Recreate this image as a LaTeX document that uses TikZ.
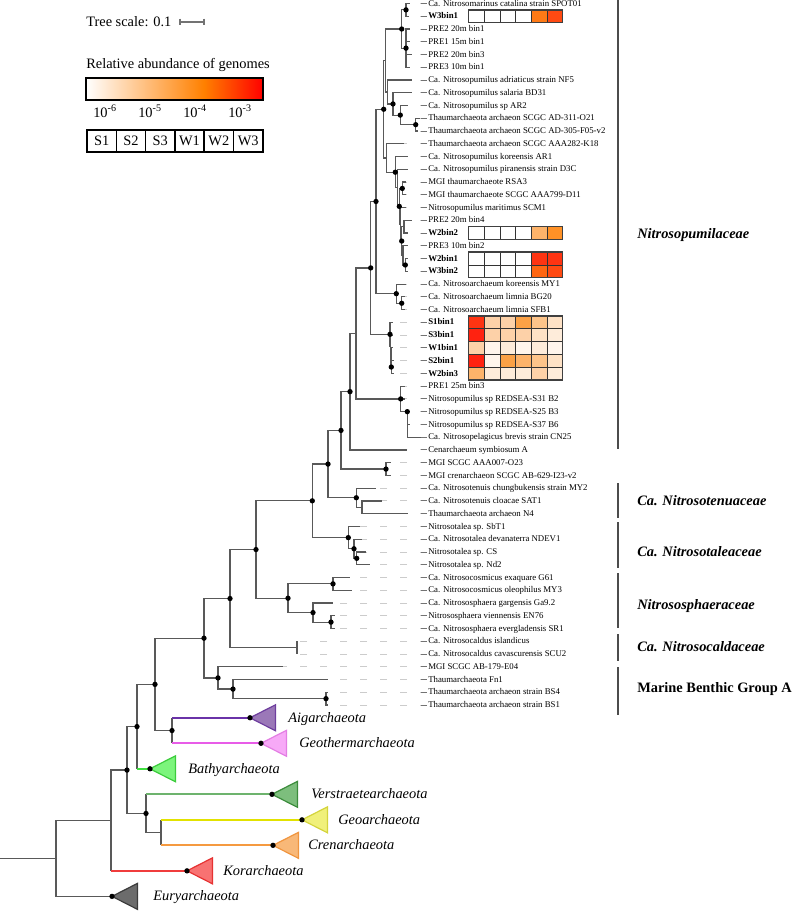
\documentclass[tikz,border=0pt]{standalone}
\usepackage{fontspec}
\setmainfont{Liberation Serif}
\usetikzlibrary{calc}

% heat map scale
\definecolor{hw}{HTML}{FFFFFF}
\definecolor{h0}{HTML}{FFF5EC}
\definecolor{h1}{HTML}{FEECDA}
\definecolor{h2}{HTML}{FEE2C6}
\definecolor{h3}{HTML}{FDD1A8}
\definecolor{h4}{HTML}{FDC48A}
\definecolor{h5}{HTML}{FDB36A}
\definecolor{h6}{HTML}{FBA146}
\definecolor{h7}{HTML}{FF9126}
\definecolor{h8}{HTML}{FF7A16}
\definecolor{h9}{HTML}{FF6612}
\definecolor{h10}{HTML}{FF4A12}
\definecolor{h11}{HTML}{FF3412}
\definecolor{h12}{HTML}{FF2210}
\definecolor{barmid}{HTML}{FF8000}
% clade colours
\definecolor{aigLine}{HTML}{6A32A8}\definecolor{aigFill}{HTML}{9B78B8}\definecolor{aigEdge}{HTML}{6E3E9E}
\definecolor{gthLine}{HTML}{E85CE8}\definecolor{gthFill}{HTML}{F7A9F7}\definecolor{gthEdge}{HTML}{E37EE3}
\definecolor{batLine}{HTML}{40E040}\definecolor{batFill}{HTML}{7CF57C}\definecolor{batEdge}{HTML}{3CCC3C}
\definecolor{verLine}{HTML}{6DB36D}\definecolor{verFill}{HTML}{7DBE7D}\definecolor{verEdge}{HTML}{3C8C3C}
\definecolor{geoLine}{HTML}{E2E200}\definecolor{geoFill}{HTML}{F0F07A}\definecolor{geoEdge}{HTML}{D4D43C}
\definecolor{creLine}{HTML}{F59A40}\definecolor{creFill}{HTML}{F8B878}\definecolor{creEdge}{HTML}{F0953F}
\definecolor{korLine}{HTML}{F03C3C}\definecolor{korFill}{HTML}{F87272}\definecolor{korEdge}{HTML}{E63232}
\definecolor{eurFill}{HTML}{6C6C6C}\definecolor{eurEdge}{HTML}{3C3C3C}

% leaf row -> pixel y
\pgfmathdeclarefunction{leafy}{1}{\pgfmathparse{3.5+(#1-1)*12.755}}
\newcommand{\leaffont}{\fontsize{6.6}{7}\selectfont}
\newcommand{\famfont}{\fontsize{10.8}{12}\selectfont}

\tikzset{
  treeedge/.style={black!65, line width=0.9pt},
  cladeedge/.style={line width=1.3pt},
  aligndash/.style={gray!40, line width=0.7pt, dash pattern=on 4.9pt off 10.1pt},
  leader/.style={black!55, line width=0.7pt},
  leaflabel/.style={anchor=base west, inner sep=0pt, font=\leaffont, yshift=-1.95pt},
  boot/.style={fill=black},
  heatcell/.style={draw=black!80, line width=0.5pt},
  cellframe/.style={draw=black!75, line width=1.1pt},
  clade/.style={line width=0.9pt, line join=miter},
  cladelabel/.style={anchor=base west, inner sep=0pt, font=\famfont\itshape, yshift=-3.4pt},
  famline/.style={black!70, line width=0.8pt},
  famlabel/.style={anchor=base west, inner sep=0pt, font=\famfont\bfseries\itshape, yshift=-3.5pt},
  legendtext/.style={anchor=base west, inner sep=0pt, font=\famfont},
  samplebox/.style={draw, line width=1.1pt, minimum width=22pt, minimum height=16.5pt, inner sep=0pt, font=\famfont},
  scalebar/.style={black!55, line width=0.8pt},
}

\begin{document}
\begin{tikzpicture}[x=0.75pt, y=-0.75pt]
    \useasboundingbox (0,0) rectangle (792,911);

    % 1. Leaves: tip, alignment dashes and labels
    \foreach \i/\tx/\lab in {
        1/410/Ca. Nitrosomarinus catalina strain SPOT01,
        2/409/\textbf{W3bin1},
        3/410/PRE2 20m bin1,
        4/410/PRE1 15m bin1,
        5/412/PRE2 20m bin3,
        6/410/PRE3 10m bin1,
        7/412/Ca. Nitrosopumilus adriaticus strain NF5,
        8/412/Ca. Nitrosopumilus salaria BD31,
        9/408/Ca. Nitrosopumilus sp AR2,
        10/420/Thaumarchaeota archaeon SCGC AD-311-O21,
        11/418/Thaumarchaeota archaeon SCGC AD-305-F05-v2,
        12/404/Thaumarchaeota archaeon SCGC AAA282-K18,
        13/408/Ca. Nitrosopumilus koreensis AR1,
        14/408/Ca. Nitrosopumilus piranensis strain D3C,
        15/406/MGI thaumarchaeote RSA3,
        16/406/MGI thaumarchaeote SCGC AAA799-D11,
        17/406/Nitrosopumilus maritimus SCM1,
        18/412/PRE2 20m bin4,
        19/408/\textbf{W2bin2},
        20/408/PRE3 10m bin2,
        21/408/\textbf{W2bin1},
        22/408/\textbf{W3bin2},
        23/406/Ca. Nitrosoarchaeum koreensis MY1,
        24/405/Ca. Nitrosoarchaeum limnia BG20,
        25/405/Ca. Nitrosoarchaeum limnia SFB1,
        26/393/\textbf{S1bin1},
        27/393/\textbf{S3bin1},
        28/393/\textbf{W1bin1},
        29/394/\textbf{S2bin1},
        30/394/\textbf{W2bin3},
        31/405/PRE1 25m bin3,
        32/405/Nitrosopumilus sp REDSEA-S31 B2,
        33/410/Nitrosopumilus sp REDSEA-S25 B3,
        34/410/Nitrosopumilus sp REDSEA-S37 B6,
        35/421/Ca. Nitrosopelagicus brevis strain CN25,
        36/407/Cenarchaeum symbiosum A,
        37/391/MGI SCGC AAA007-O23,
        38/391/MGI crenarchaeon SCGC AB-629-I23-v2,
        39/376/Ca. Nitrosotenuis chungbukensis strain MY2,
        40/382/Ca. Nitrosotenuis cloacae SAT1,
        41/408/Thaumarchaeota archaeon N4,
        42/360/Nitrosotalea sp. SbT1,
        43/362/Ca. Nitrosotalea devanaterra NDEV1,
        44/366/Nitrosotalea sp. CS,
        45/370/Nitrosotalea sp. Nd2,
        46/350/Ca. Nitrosocosmicus exaquare G61,
        47/352/Ca. Nitrosocosmicus oleophilus MY3,
        48/333/Ca. Nitrososphaera gargensis Ga9.2,
        49/335/Nitrososphaera viennensis EN76,
        50/335/Ca. Nitrososphaera evergladensis SR1,
        51/297/Ca. Nitrosocaldus islandicus,
        52/297/Ca. Nitrosocaldus cavascurensis SCU2,
        53/283/MGI SCGC AB-179-E04,
        54/328/Thaumarchaeota Fn1,
        55/328/Thaumarchaeota archaeon strain BS4,
        56/328/Thaumarchaeota archaeon strain BS1} {
        \coordinate (l\i) at (\tx,{leafy(\i)});
        \draw[aligndash] (427,{leafy(\i)}) -- (l\i);
        \draw[leader] (421,{leafy(\i)}) -- ++(6,0);
        \node[leaflabel] (t\i) at (428,{leafy(\i)}) {\lab};
    }

    % 2. Internal nodes (x in px, y as leaf row)
    \coordinate (n1) at (406,{leafy(1.5)});
    \coordinate (n3) at (406,{leafy(4.5)});
    \coordinate (n2) at (401.7,{leafy(3)});
    \coordinate (n7) at (415.7,{leafy(10.5)});
    \coordinate (n6) at (400.3,{leafy(9.75)});
    \coordinate (n5) at (393,{leafy(8.875)});
    \coordinate (nC) at (387.5,{leafy(7.9375)});
    \coordinate (nA) at (385.5,{leafy(5.469)});
    \coordinate (n10) at (402.3,{leafy(15.5)});
    \coordinate (n13) at (405.3,{leafy(21.5)});
    \coordinate (nE) at (403,{leafy(20.75)});
    \coordinate (nD) at (404,{leafy(18.5)});
    \coordinate (n12) at (401.7,{leafy(19.625)});
    \coordinate (nF) at (400.8,{leafy(18.3125)});
    \coordinate (n11) at (399.3,{leafy(16.906)});
    \coordinate (nX) at (397.5,{leafy(15.453)});
    \coordinate (n9) at (395.3,{leafy(14.227)});
    \coordinate (nB) at (386.5,{leafy(13.113)});
    \coordinate (n4) at (383.7,{leafy(9.291)});
    \coordinate (n16) at (401.7,{leafy(24.5)});
    \coordinate (n15) at (396.3,{leafy(23.75)});
    \coordinate (n8) at (376,{leafy(16.52)});
    \coordinate (n18) at (391.3,{leafy(29.5)});
    \coordinate (nV) at (391,{leafy(28.75)});
    \coordinate (nW) at (390.5,{leafy(27.875)});
    \coordinate (n17) at (390,{leafy(26.9375)});
    \coordinate (n14) at (370.7,{leafy(21.73)});
    \coordinate (n21) at (407.3,{leafy(33)});
    \coordinate (n20) at (400.7,{leafy(32)});
    \coordinate (nK) at (356,{leafy(26.865)});
    \coordinate (n19) at (350,{leafy(31.43)});
    \coordinate (n23) at (386,{leafy(37.5)});
    \coordinate (n22) at (341,{leafy(34.47)});
    \coordinate (nTe) at (362,{leafy(40.5)});
    \coordinate (n25) at (356.3,{leafy(39.75)});
    \coordinate (n24) at (328,{leafy(37.11)});
    \coordinate (nT3) at (356.7,{leafy(44.5)});
    \coordinate (nT2) at (354,{leafy(43.75)});
    \coordinate (nT1) at (348.3,{leafy(42.875)});
    \coordinate (n26) at (312.3,{leafy(39.99)});
    \coordinate (nCos) at (333,{leafy(46.5)});
    \coordinate (nSph2) at (331,{leafy(49.5)});
    \coordinate (nSph1) at (313,{leafy(48.75)});
    \coordinate (nSph) at (288,{leafy(47.625)});
    \coordinate (nS) at (256,{leafy(43.81)});
    \coordinate (nCal) at (297,{leafy(51.5)});
    \coordinate (nR) at (230,{leafy(47.65)});
    \coordinate (nBS) at (326,{leafy(55.5)});
    \coordinate (nFn) at (233,{leafy(54.75)});
    \coordinate (nMB) at (218,{leafy(53.875)});
    \coordinate (nQ) at (204,{leafy(50.76)});
    \coordinate (nAG) at (172,{leafy(58)});
    \coordinate (nP) at (155,{leafy(54.38)});
    \coordinate (nBa) at (137,{leafy(57.69)});
    \coordinate (nGC) at (161,{leafy(66)});
    \coordinate (nVGC) at (146,{leafy(64.5)});
    \coordinate (nTACK) at (127,{leafy(61.1)});
    \coordinate (nK2) at (111,{leafy(65.05)});
    \coordinate (nRoot) at (56,{leafy(68.02)});
    \coordinate (r0) at (0,{leafy(68.02)});

    % collapsed clades (apex)
    \coordinate (cAig) at (250,{leafy(57)});
    \coordinate (cGth) at (261,{leafy(59)});
    \coordinate (cBat) at (150,{leafy(61)});
    \coordinate (cVer) at (272,{leafy(63)});
    \coordinate (cGeo) at (302,{leafy(65)});
    \coordinate (cCre) at (273,{leafy(67)});
    \coordinate (cKor) at (187,{leafy(69)});
    \coordinate (cEur) at (112,{leafy(71)});

    % 3. Branches
    \foreach \p/\c in {n1/l1, n1/l2, n3/l3, n3/l4, n3/l5, n3/l6, n2/n1, n2/n3,
        nA/n2, nA/nC, nC/l7, nC/n5, n5/l8, n5/n6, n6/l9, n6/n7, n7/l10, n7/l11,
        n4/nA, n4/nB, nB/l12, nB/n9, n9/l13, n9/nX, nX/l14, nX/n11, n11/n10,
        n11/nF, n10/l15, n10/l16, nF/l17, nF/n12, n12/nD, n12/nE, nD/l18,
        nD/l19, nE/l20, nE/n13, n13/l21, n13/l22, n8/n4, n8/n15, n15/l23,
        n15/n16, n16/l24, n16/l25, n14/n8, n14/n17, n17/l26, n17/nW, nW/l27,
        nW/nV, nV/l28, nV/n18, n18/l29, n18/l30, nK/n14, nK/n20, n20/l31,
        n20/l32, n20/n21, n21/l33, n21/l34, n21/l35, n19/nK, n19/l36, n22/n19,
        n22/n23, n23/l37, n23/l38, n24/n22, n24/n25, n25/l39, n25/nTe, nTe/l40,
        nTe/l41, n26/n24, n26/nT1, nT1/l42, nT1/nT2, nT2/l43, nT2/nT3, nT3/l44,
        nT3/l45, nS/n26, nS/nSph, nSph/nCos, nSph/nSph1, nCos/l46, nCos/l47,
        nSph1/l48, nSph1/nSph2, nSph2/l49, nSph2/l50, nR/nS, nR/nCal, nCal/l51,
        nCal/l52, nQ/nR, nQ/nMB, nMB/l53, nMB/nFn, nFn/l54, nFn/nBS, nBS/l55,
        nBS/l56, nP/nQ, nP/nAG, nBa/nP, nTACK/nBa, nTACK/nVGC, nVGC/nGC,
        nK2/nTACK, nRoot/nK2, nRoot/cEur}
        \draw[treeedge] (\p) |- (\c);
    \draw[treeedge] (r0) -- (nRoot);

    % coloured branches to collapsed clades
    \draw[treeedge] (nAG |- cAig) -- (nAG |- cGth);
    \draw[cladeedge, aigLine] (nAG |- cAig) -- (cAig);
    \draw[cladeedge, gthLine] (nAG |- cGth) -- (cGth);
    \draw[treeedge] (nBa) -- (nBa |- cBat);
    \draw[cladeedge, batLine] (nBa |- cBat) -- (cBat);
    \draw[treeedge] (nVGC) -- (nVGC |- cVer);
    \draw[cladeedge, verLine] (nVGC |- cVer) -- (cVer);
    \draw[treeedge] (nGC |- cGeo) -- (nGC |- cCre);
    \draw[cladeedge, geoLine] (nGC |- cGeo) -- (cGeo);
    \draw[cladeedge, creLine] (nGC |- cCre) -- (cCre);
    \draw[treeedge] (nK2) -- (nK2 |- cKor);
    \draw[cladeedge, korLine] (nK2 |- cKor) -- (cKor);

    % triangles
    \foreach \c/\f/\e in {cAig/aigFill/aigEdge, cGth/gthFill/gthEdge, cBat/batFill/batEdge,
        cVer/verFill/verEdge, cGeo/geoFill/geoEdge, cCre/creFill/creEdge,
        cKor/korFill/korEdge, cEur/eurFill/eurEdge}
        \filldraw[clade, fill=\f, draw=\e] (\c) -- ++(25.5,-13) -- ++(0,26) -- cycle;

    % 4. Supported nodes
    \foreach \n in {n1, n2, n3, n4, n5, n6, n7, n8, n9, n10, n11, n12, n13, n14, n15,
        n16, n17, n18, n19, n20, n21, n22, n23, n24, n25, n26, nT1, nT2, nT3, nCos,
        nSph, nSph1, nSph2, nS, nR, nQ, nMB, nFn, nBS, nP, nAG, nBa, nTACK, nVGC,
        cAig, cGth, cBat, cVer, cGeo, cCre, cKor, cEur}
        \fill[boot] (\n) circle (2pt);

    % 5. Heat map (S1 S2 S3 W1 W2 W3)
    \foreach \r/\ca/\cb/\cc/\cd/\ce/\cf in {
        2/hw/hw/hw/hw/h8/h10, 19/hw/hw/hw/hw/h5/h7, 21/hw/hw/hw/hw/h11/h11,
        22/hw/hw/hw/hw/h9/h10, 26/h11/h3/h3/h6/h4/h2, 27/h12/h3/h3/h3/h2/h1,
        28/h3/h0/h1/h0/h1/h0, 29/h12/h0/h6/h5/h4/h2, 30/h5/h1/h1/h1/h3/h1} {
        \foreach \c [count=\j] in {\ca,\cb,\cc,\cd,\ce,\cf}
            \draw[heatcell, fill=\c] ({468.5+(\j-1)*15.7},{leafy(\r-0.5)}) rectangle ++(15.7,12.755);
    }
    \foreach \a/\b in {1.5/2.5, 18.5/19.5, 20.5/22.5, 25.5/30.5}
        \draw[cellframe] (468.5,{leafy(\a)}) rectangle (562.7,{leafy(\b)});

    % 6. Clade labels
    \node[cladelabel] (lbAig) at (288,{leafy(57)}) {Aigarchaeota};
    \node[cladelabel] (lbGth) at (299,{leafy(59)}) {Geothermarchaeota};
    \node[cladelabel] (lbBat) at (188,{leafy(61)}) {Bathyarchaeota};
    \node[cladelabel] (lbVer) at (311,{leafy(63)}) {Verstraetearchaeota};
    \node[cladelabel] (lbGeo) at (338,{leafy(65)}) {Geoarchaeota};
    \node[cladelabel] (lbCre) at (308,{leafy(67)}) {Crenarchaeota};
    \node[cladelabel] (lbKor) at (223,{leafy(69)}) {Korarchaeota};
    \node[cladelabel] (lbEur) at (153,{leafy(71)}) {Euryarchaeota};

    % 7. Families
    \draw[famline] (618,0) -- (618,449);
    \node[famlabel] (fNpu) at (637,234) {Nitrosopumilaceae};
    \draw[famline] (618,483) -- (618,518);
    \node[famlabel] (fNte) at (637,501) {Ca. Nitrosotenuaceae};
    \draw[famline] (618,522) -- (618,568);
    \node[famlabel] (fNta) at (637,552) {Ca. Nitrosotaleaceae};
    \draw[famline] (618,573) -- (618,628);
    \node[famlabel] (fNsp) at (637,605) {Nitrososphaeraceae};
    \draw[famline] (618,634) -- (618,661);
    \node[famlabel] (fNca) at (637,647) {Ca. Nitrosocaldaceae};
    \draw[famline] (618,667) -- (618,715);
    \node[famlabel, font=\famfont\bfseries] (fMbg) at (637,688) {Marine Benthic Group A};

    % 8. Legend
    \node[legendtext] (tscale) at (86,26) {Tree scale: 0.1};
    \coordinate (sb0) at (180,22);
    \coordinate (sb1) at (204,22);
    \draw[scalebar] (sb0) -- (sb1);
    \draw[scalebar] ([yshift=2.6pt]sb0) -- ([yshift=-2.6pt]sb0);
    \draw[scalebar] ([yshift=2.6pt]sb1) -- ([yshift=-2.6pt]sb1);

    \node[legendtext] (abtitle) at (86,68) {Relative abundance of genomes};
    \shade[left color=white, right color=barmid] (86,78) rectangle (204,100);
    \shade[left color=barmid, right color=red] (204,78) rectangle (263,100);
    \draw[line width=1.1pt] (86,78) rectangle (263,100);
    \foreach \e [count=\k] in {6,5,4,3}
        \node[legendtext, anchor=base] (ex\e) at ({60+45*\k},117) {10\textsuperscript{-\e}};

    \foreach \s [count=\j] in {S1,S2,S3,W1,W2,W3}
        \node[samplebox] (sm\j) at ({87+29.3*(\j-0.5)},141) {\s};
\end{tikzpicture}
\end{document}
